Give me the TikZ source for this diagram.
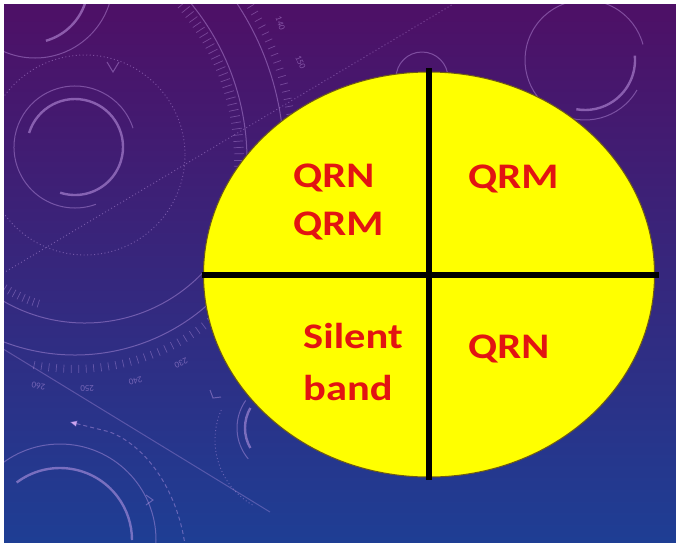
\documentclass[tikz,border=0pt]{standalone}
\usepackage{fontspec}
\setmainfont{Carlito}
\usetikzlibrary{arrows.meta,shapes.geometric}
\definecolor{bgtop}{RGB}{78,16,102}
\definecolor{bgmid}{RGB}{56,30,112}
\definecolor{bgbot}{RGB}{30,62,148}
\definecolor{disc}{RGB}{255,255,0}
\definecolor{discedge}{RGB}{110,90,20}
\definecolor{labelred}{RGB}{226,20,18}
\definecolor{deco}{RGB}{205,165,240}
\tikzset{
  deco thin/.style={draw=deco, draw opacity=0.4, line width=1pt},
  deco thick/.style={draw=deco, draw opacity=0.5, line width=2.4pt},
  deco dots/.style={draw=deco, draw opacity=0.4, line width=0.9pt, dash pattern=on 1pt off 2.5pt},
  deco tick/.style={draw=deco, draw opacity=0.35, line width=0.7pt},
  deco num/.style={text=deco, text opacity=0.45, inner sep=0pt, font=\fontsize{9}{9}\selectfont},
  quadrant label/.style={text=labelred, font=\fontsize{36}{36}\selectfont\bfseries,
    xscale=1.18, anchor=base west, inner sep=0pt},
  divider/.style={line width=6pt, draw=black},
}
\begin{document}
\begin{tikzpicture}[x=1pt,y=-1pt]
\useasboundingbox (0,0) rectangle (676,542);
% frame and backdrop
\fill[white] (0,0) rectangle (676,542);
\shade[top color=bgtop, middle color=bgmid, bottom color=bgbot] (4,4) rectangle (676,542);

\begin{scope}
\clip (4,4) rectangle (676,542);
% ring group, upper left
\draw[deco thin] ([shift={(-18:61)}]75,147) arc[start angle=-18, end angle=-290, radius=61];
\draw[deco thick] ([shift={(-163:48)}]75,147) arc[start angle=-163, end angle=108, radius=48];
\draw[deco dots] (85,155) circle[radius=100];
\draw[deco thin] (107,62) -- (113,72) -- (119,62);
% corner ring
\draw[deco thin] (35,-20) circle[radius=78];
\draw[deco thick] ([shift={(74:58)}]30,-15) arc[start angle=74, end angle=15, radius=58];
% upper dial
\draw[deco thin] ([shift={(-50:247)}]0,160) arc[start angle=-50, end angle=10, radius=247];
\draw[deco thin] ([shift={(-40:284)}]0,160) arc[start angle=-40, end angle=5, radius=284];
\foreach \a in {-48,-46.5,...,8}
  \draw[deco tick] ([shift={(\a:234)}]0,160) -- ([shift={(\a:244)}]0,160);
\foreach \a in {-36,-34.5,...,0}
  \draw[deco tick] ([shift={(\a:290)}]0,160) -- ([shift={(\a:298)}]0,160);
\node[deco num, rotate=-70] (n140) at ([shift={(-26:312)}]0,160) {140};
\node[deco num, rotate=-65] (n150) at ([shift={(-18:316)}]0,160) {150};
% lower dial
\draw[deco thin] ([shift={(40:163)}]85,160) arc[start angle=40, end angle=130, radius=163];
\foreach \a in {108,110,...,136}
  \draw[deco tick] ([shift={(\a:147)}]85,160) -- ([shift={(\a:155)}]85,160);
\draw[deco thin] ([shift={(40:200)}]75,155) arc[start angle=40, end angle=120, radius=200];
\foreach \a in {47,49,...,101}
  \draw[deco tick] ([shift={(\a:210)}]75,155) -- ([shift={(\a:218)}]75,155);
\node[deco num, rotate=172] (n260) at ([shift={(99:234)}]75,155) {260};
\node[deco num, rotate=183] (n250) at ([shift={(87:234)}]75,155) {250};
\node[deco num, rotate=195] (n240) at ([shift={(75:234)}]75,155) {240};
\node[deco num, rotate=205] (n230) at ([shift={(63:234)}]75,155) {230};
% sweeping lines
\draw[deco dots] (0,275) -- (460,0);
\draw[deco thin, draw opacity=0.3] (0,347) -- (270,512);
\draw[deco thin, dash pattern=on 4pt off 3pt, {Triangle[length=7pt,width=6pt]}-]
  (70,422) -- (110,432) .. controls (150,448) and (178,495) .. (185,545);
% ring group, lower left
\draw[deco thin] (60,540) circle[radius=96];
\draw[deco thick] ([shift={(-127:72)}]60,540) arc[start angle=-127, end angle=0, radius=72];
\draw[deco thin] (146,495) -- (153,500) -- (146,505);
% arcs beside the disc
\draw[deco dots] ([shift={(120:75)}]290,440) arc[start angle=120, end angle=205, radius=75];
\draw[deco thin] ([shift={(140:48)}]285,428) arc[start angle=140, end angle=215, radius=48];
\draw[deco thick] ([shift={(150:40)}]285,428) arc[start angle=150, end angle=210, radius=40];
\draw[deco thin] (210,390) -- (213,398) -- (221,397);
% rings, top
\draw[deco thin] (422,78) circle[radius=26];
\draw[deco thin] ([shift={(30:60)}]585,60) arc[start angle=30, end angle=345, radius=60];
\draw[deco thick] ([shift={(-5:50)}]585,60) arc[start angle=-5, end angle=100, radius=50];
\end{scope}

% the disc and its quadrants
\node[ellipse, fill=disc, draw=discedge, line width=1pt, inner sep=0pt, outer sep=0pt,
  minimum width=451pt, minimum height=405pt] (disc) at (429,274.5) {};
\draw[divider] ([yshift=4pt]disc.north) -- ([yshift=-3pt]disc.south);
\draw[divider] ([xshift=-2pt]disc.west) -- ([xshift=4pt]disc.east);

\node[quadrant label] (qrnA) at (293,187) {QRN};
\node[quadrant label] (qrmA) at (293,235) {QRM};
\node[quadrant label] (qrmB) at (468,188) {QRM};
\node[quadrant label] (silent) at (303,348) {Silent};
\node[quadrant label] (band) at (303,400) {band};
\node[quadrant label] (qrnB) at (468,358) {QRN};
\end{tikzpicture}
\end{document}
